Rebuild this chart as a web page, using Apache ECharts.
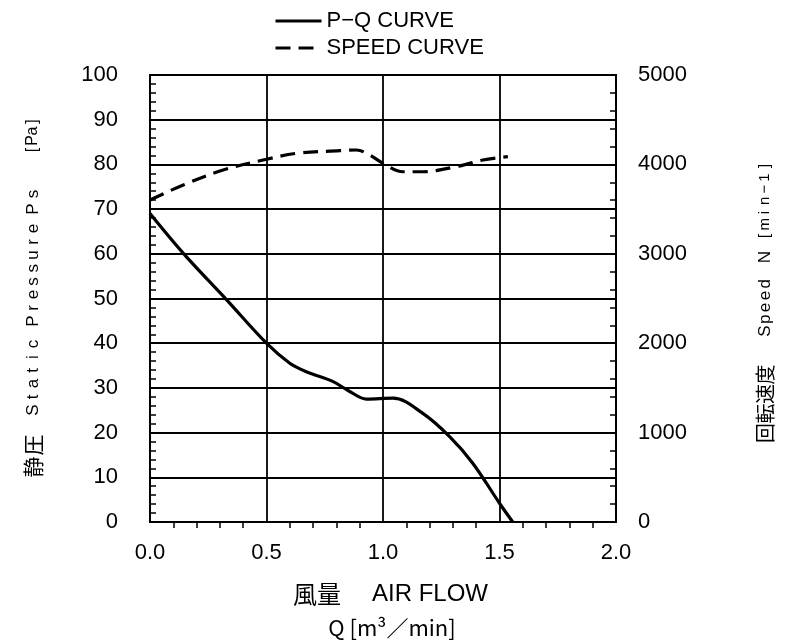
<!DOCTYPE html>
<html><head><meta charset="utf-8">
<script src="https://cdn.jsdelivr.net/npm/echarts@6/dist/echarts.min.js"></script>
<style>html,body{margin:0;padding:0;background:#fff}#c{width:787px;height:641px}</style>
</head><body><div id="c"></div>
<script>
const pqX = [0.0, 0.143, 0.329, 0.5, 0.6, 0.671, 0.786, 0.857, 0.929, 1.043, 1.171, 1.286, 1.386, 1.5, 1.557];
const pqY = [69, 60.1, 49.7, 40.0, 35.5, 33.6, 31.4, 29.2, 27.5, 27.7, 24.3, 19.1, 13.1, 4.2, 0];
const spX = [0.0, 0.143, 0.314, 0.5, 0.629, 0.814, 0.886, 0.943, 1.0, 1.086, 1.171, 1.314, 1.429, 1.536];
const spY = [3602, 3770, 3937, 4057, 4124, 4153, 4161, 4105, 4012, 3918, 3918, 3974, 4049, 4086];
const xTicks = ['0.0','0.5','1.0','1.5','2.0'];
const seriesNames = ['P\u2212Q CURVE', 'SPEED CURVE'];

const chart = echarts.init(document.getElementById('c'), null, {renderer:'canvas'});
const font = '"Liberation Sans", Arial, sans-serif';
const cjk = '"Noto Sans CJK JP", sans-serif';

// vertical (rotated) text, one glyph at a time, reading bottom to top
function vText(str, x, yStart, adv, fnt) {
  const out = [];
  let y = yStart;
  for (const ch of str) {
    if (ch !== ' ') out.push({type:'text', x:x, y:y, rotation:Math.PI/2,
      style:{text:ch, font:fnt, fill:'#000', textAlign:'center', textVerticalAlign:'middle'}});
    y -= adv;
  }
  return out;
}
const latin = '17px ' + font;
const graphics = [
  {type:'text', x:293, y:594, style:{text:'風量', font:'24px ' + cjk, fill:'#000', textAlign:'left', textVerticalAlign:'middle'}},
  {type:'text', x:372, y:594, style:{text:'AIR FLOW', font:'24px ' + font, fill:'#000', textAlign:'left', textVerticalAlign:'middle'}},
  {type:'text', x:392, y:628, style:{text:'Q [m³／min]', font:'22px ' + cjk, fill:'#000', textAlign:'center', textVerticalAlign:'middle'}},
  ...vText('静圧', 33, 467, 22, '21px ' + cjk),
  ...vText('Static', 33, 410, 13.2, latin),
  ...vText('Pressure', 33, 321, 13.2, latin),
  ...vText('Ps', 33, 209, 15, latin),
  ...vText('[Pa]', 33, 150, 9.5, '16px ' + font),
  ...vText('回転速度', 765, 433, 19.5, '20px ' + cjk),
  ...vText('Speed', 765, 331, 11.8, latin),
  ...vText('N', 765, 257, 12, latin),
  ...vText('[min−1]', 765, 236, 11.7, '15px ' + font)
];

chart.setOption({
  animation:false,
  backgroundColor:'#fff',
  legend:{
    orient:'vertical', left:269, top:4, itemWidth:46, itemHeight:24, itemGap:3,
    itemStyle:{opacity:0},
    lineStyle:{width:3},
    textStyle:{fontFamily:font, fontSize:22, color:'#000', lineHeight:24},
    data:seriesNames
  },
  grid:{left:150, right:171, top:75, bottom:119, show:true, borderColor:'#000', borderWidth:2, containLabel:false},
  xAxis:{
    type:'value', min:0, max:2, interval:0.5,
    axisLine:{show:true, lineStyle:{color:'#000', width:2}},
    axisTick:{show:false},
    minorTick:{show:true, splitNumber:5, length:6, lineStyle:{color:'#000', width:1.5}},
    splitLine:{show:true, lineStyle:{color:'#000', width:1.8}},
    axisLabel:{fontFamily:font, fontSize:22, color:'#000', margin:20, formatter:(v)=>xTicks[Math.round(v/0.5)]}
  },
  yAxis:[{
    type:'value', min:0, max:100, interval:10, position:'left',
    axisLine:{show:true, lineStyle:{color:'#000', width:2}},
    axisTick:{show:false, inside:true},
    minorTick:{show:true, splitNumber:5, length:6, lineStyle:{color:'#000', width:1.5}},
    splitLine:{show:true, lineStyle:{color:'#000', width:1.8}},
    axisLabel:{fontFamily:font, fontSize:22, color:'#000', margin:32}
  },{
    type:'value', min:0, max:5000, interval:1000, position:'right',
    axisLine:{show:true, lineStyle:{color:'#000', width:2}},
    axisTick:{show:false, inside:true},
    minorTick:{show:true, splitNumber:5, length:6, lineStyle:{color:'#000', width:1.5}},
    splitLine:{show:false},
    axisLabel:{fontFamily:font, fontSize:22, color:'#000', margin:22, formatter:(v)=>String(v)}
  }],
  series:[{
    name:seriesNames[0], type:'line', yAxisIndex:0, smooth:0.35, symbol:'none',
    lineStyle:{color:'#000', width:3.2, type:'solid'}, itemStyle:{color:'#000'},
    data:pqX.map((x,i)=>[x,pqY[i]])
  },{
    name:seriesNames[1], type:'line', yAxisIndex:1, smooth:0.35, symbol:'none',
    lineStyle:{color:'#000', width:3.2, type:[15,8]}, itemStyle:{color:'#000'},
    data:spX.map((x,i)=>[x,spY[i]])
  }],
  graphic:graphics
});
</script></body></html>
